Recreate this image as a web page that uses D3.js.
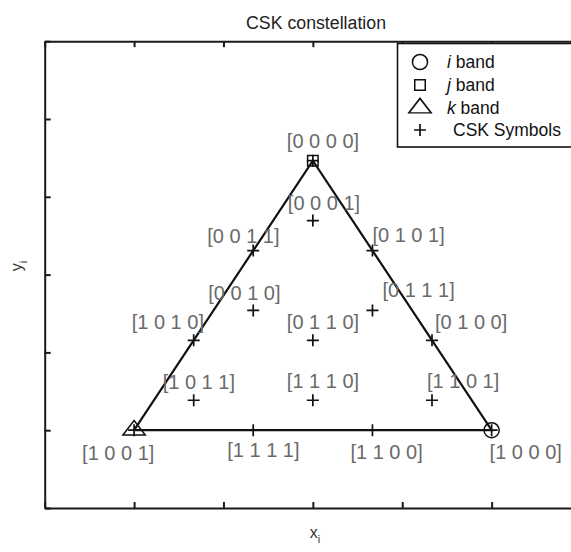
<!DOCTYPE html>
<html>
<head>
<meta charset="utf-8">
<script src="https://cdn.jsdelivr.net/npm/d3@7"></script>
<style>
  html, body { margin: 0; padding: 0; background: #fff; }
  svg { display: block; }
  text { font-family: "Liberation Sans", Arial, Helvetica, sans-serif; }
</style>
</head>
<body>
<svg id="chart" width="571" height="552"></svg>
<script>
// 16-CSK constellation symbols (chromaticity coordinates)
const symbolLabels = [
  "[0 0 0 0]", "[0 0 0 1]", "[0 0 1 1]", "[0 1 0 1]",
  "[0 0 1 0]", "[0 1 1 1]", "[1 0 1 0]", "[0 1 1 0]",
  "[0 1 0 0]", "[1 0 1 1]", "[1 1 1 0]", "[1 1 0 1]",
  "[1 0 0 1]", "[1 1 1 1]", "[1 1 0 0]", "[1 0 0 0]"
];
const symbolX = [0.3, 0.3, 0.2333, 0.3667, 0.2333, 0.3667, 0.1667, 0.3, 0.4333, 0.1667, 0.3, 0.4333, 0.1, 0.2333, 0.3667, 0.5];
const symbolY = [0.4464, 0.3694, 0.3309, 0.3309, 0.2539, 0.2539, 0.2155, 0.2155, 0.2155, 0.1385, 0.1385, 0.1385, 0.1, 0.1, 0.1, 0.1];

// colour band centres (triangle vertices)
const bandNames = ["i", "j", "k"];
const bandX = [0.5, 0.3, 0.1];
const bandY = [0.1, 0.4464, 0.1];

const xTicks = [0, 0.1, 0.2, 0.3, 0.4, 0.5, 0.6];
const yTicks = [0, 0.1, 0.2, 0.3, 0.4, 0.5, 0.6];

// label placement relative to each symbol, in pixels (left edge, vertical middle)
const labelDx = [-26, -25, -46, 0, -45, 10, -62, -26, 3, -31, -26, -5, -52, -26, -22, -2];
const labelDy = [-20, -18, -15, -16, -17, -20, -18, -18, -18, -18, -19, -19, 23, 20, 22, 22];

const svg = d3.select("#chart");
const plotLeft = 44.7, plotRight = 581, plotTop = 41.2, plotBottom = 508;

const x = d3.scaleLinear().domain([0, 0.6]).range([plotLeft, plotRight]);
const y = d3.scaleLinear().domain([0, 0.6]).range([plotBottom, plotTop]);

// axes with inward ticks on all sides
const tickLen = 6;
const axisStroke = "#1a1a1a";
function styleAxis(g) {
  g.selectAll("path,line").attr("stroke", axisStroke).attr("stroke-width", 2);
}
svg.append("g").attr("transform", `translate(0,${plotBottom})`)
  .call(d3.axisTop(x).tickValues(xTicks).tickSize(tickLen).tickSizeOuter(0).tickFormat(""))
  .call(styleAxis);
svg.append("g").attr("transform", `translate(0,${plotTop})`)
  .call(d3.axisBottom(x).tickValues(xTicks).tickSize(tickLen).tickSizeOuter(0).tickFormat(""))
  .call(styleAxis);
svg.append("g").attr("transform", `translate(${plotLeft},0)`)
  .call(d3.axisRight(y).tickValues(yTicks).tickSize(tickLen).tickSizeOuter(0).tickFormat(""))
  .call(styleAxis);
svg.append("g").attr("transform", `translate(${plotRight},0)`)
  .call(d3.axisLeft(y).tickValues(yTicks).tickSize(tickLen).tickSizeOuter(0).tickFormat(""))
  .call(styleAxis);

// title and axis labels
svg.append("text").attr("x", 316).attr("y", 23).attr("dy", "0.35em")
  .attr("text-anchor", "middle").attr("font-size", 18).attr("fill", "#222")
  .attr("textLength", 140).attr("lengthAdjust", "spacingAndGlyphs")
  .text("CSK constellation");

const xl = svg.append("text").attr("x", 315).attr("y", 538)
  .attr("text-anchor", "middle").attr("font-size", 16)
  .attr("font-family", "'Liberation Serif', 'Times New Roman', serif").attr("fill", "#333");
xl.append("tspan").text("x");
xl.append("tspan").attr("font-size", 11).attr("dy", 5).text("i");

const yl = svg.append("text").attr("transform", "translate(22,266) rotate(-90)")
  .attr("text-anchor", "middle").attr("font-size", 16)
  .attr("font-family", "'Liberation Serif', 'Times New Roman', serif").attr("fill", "#333");
yl.append("tspan").text("y");
yl.append("tspan").attr("font-size", 11).attr("dy", 5).text("i");

// triangle outline through the band centres
const line = d3.line().x(d => x(d[0])).y(d => y(d[1]));
const triPts = [[bandX[2], bandY[2]], [bandX[1], bandY[1]], [bandX[0], bandY[0]], [bandX[2], bandY[2]]];
svg.append("path").attr("d", line(triPts))
  .attr("fill", "none").attr("stroke", "#111").attr("stroke-width", 2.2)
  .attr("stroke-linejoin", "miter");

// band markers: circle (i), square (j), triangle (k)
const markerShapes = [d3.symbolCircle, d3.symbolSquare, d3.symbolTriangle];
const markerSizes = [180, 110, 150];
function drawBandMarker(g, i, cx, cy) {
  const path = d3.symbol().type(markerShapes[i]).size(markerSizes[i]);
  g.append("path").attr("d", path())
    .attr("transform", `translate(${cx},${cy})` + (i === 2 ? " scale(1.2,0.9)" : ""))
    .attr("fill", "none").attr("stroke", "#111").attr("stroke-width", 1.5);
}
bandX.forEach((bx, i) => drawBandMarker(svg, i, x(bx), y(bandY[i])));

// plus markers for every symbol
const plusHalf = 6;
function plusPath(cx, cy) {
  return `M${cx - plusHalf},${cy}H${cx + plusHalf}M${cx},${cy - plusHalf}V${cy + plusHalf}`;
}
svg.append("g").selectAll("path").data(symbolX).join("path")
  .attr("d", (d, i) => plusPath(x(d), y(symbolY[i])))
  .attr("stroke", "#111").attr("stroke-width", 1.7).attr("fill", "none");

// symbol bit labels
svg.append("g").selectAll("text").data(symbolLabels).join("text")
  .attr("x", (d, i) => x(symbolX[i]) + labelDx[i])
  .attr("y", (d, i) => y(symbolY[i]) + labelDy[i])
  .attr("dy", "0.35em")
  .attr("font-size", 20).attr("fill", "#6a6a6a")
  .text(d => d);

// legend
const lg = svg.append("g");
const legTop = 43.5, legLeft = 397.5;
lg.append("rect").attr("x", legLeft).attr("y", legTop).attr("width", 200).attr("height", 103.5)
  .attr("fill", "#fff").attr("stroke", "#111").attr("stroke-width", 1.6);
const legRowY = [62, 85, 108, 130];
const legMarkX = 420, legTextX = 447;
bandNames.forEach((b, i) => {
  drawBandMarker(lg, i, legMarkX, legRowY[i]);
  const t = lg.append("text").attr("x", legTextX).attr("y", legRowY[i]).attr("dy", "0.35em")
    .attr("font-size", 17.5).attr("fill", "#111");
  t.append("tspan").attr("font-style", "italic").text(b);
  t.append("tspan").text(" band");
});
lg.append("path").attr("d", plusPath(legMarkX, legRowY[3]))
  .attr("stroke", "#111").attr("stroke-width", 1.7);
lg.append("text").attr("x", 453).attr("y", legRowY[3]).attr("dy", "0.35em")
  .attr("font-size", 17.5).attr("fill", "#111").text("CSK Symbols");
</script>
</body>
</html>
